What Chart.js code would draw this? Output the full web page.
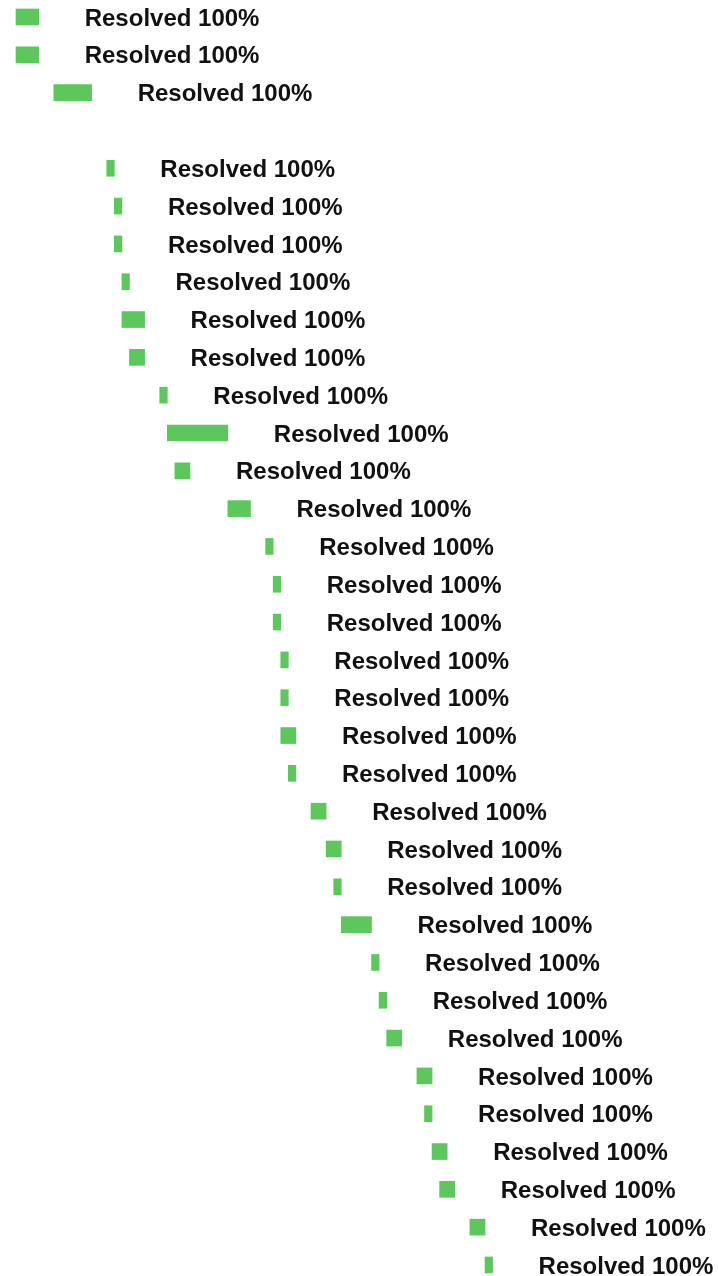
<!DOCTYPE html>
<html>
<head>
<meta charset="utf-8">
<script src="https://cdn.jsdelivr.net/npm/chart.js@4/dist/chart.umd.min.js"></script>
<style>
  html, body { margin: 0; padding: 0; background: #fff; }
  canvas { display: block; }
</style>
</head>
<body>
<canvas id="gantt" width="718" height="1276"></canvas>
<script>
// filas del gantt (dias desde el inicio)
const categories = [
  "T1", "T2", "T3", "T4", "T5", "T6", "T7", "T8", "T9", "T10",
  "T11", "T12", "T13", "T14", "T15", "T16", "T17", "T18", "T19", "T20",
  "T21", "T22", "T23", "T24", "T25", "T26", "T27", "T28", "T29", "T30",
  "T31", "T32", "T33", "T34"
];
const startDay = [
  0, 0, 5, null, 12, 13, 13, 14, 14, 15,
  19, 20, 21, 28, 33, 34, 34, 35, 35, 35,
  36, 39, 41, 42, 43, 47, 48, 49, 53, 54,
  55, 56, 60, 62
];
const endDay = [
  3, 3, 10, null, 13, 14, 14, 15, 17, 17,
  20, 28, 23, 31, 34, 35, 35, 36, 36, 37,
  37, 41, 43, 43, 47, 48, 49, 51, 55, 55,
  57, 58, 62, 63
];
const statusLabels = categories.map((c, i) => startDay[i] == null ? "" : "Resolved 100%");

const rangos = categories.map((c, i) =>
  startDay[i] == null ? null : [startDay[i], endDay[i]]
);

// texto a la derecha de cada barra
const etiquetas = {
  id: "etiquetas",
  afterDatasetsDraw(chart) {
    const ctx = chart.ctx;
    const meta = chart.getDatasetMeta(0);
    ctx.save();
    ctx.font = 'bold 24px "Liberation Sans", Arial, sans-serif';
    ctx.fillStyle = "#111";
    ctx.textAlign = "left";
    ctx.textBaseline = "middle";
    meta.data.forEach((bar, i) => {
      if (!statusLabels[i] || rangos[i] == null) return;
      ctx.fillText(statusLabels[i], bar.x + 46, bar.y + 2);
    });
    ctx.restore();
  }
};

new Chart(document.getElementById("gantt").getContext("2d"), {
  type: "bar",
  data: {
    labels: categories,
    datasets: [{
      data: rangos,
      backgroundColor: "#5cc85c",
      borderWidth: 0,
      barThickness: 16,
      clip: false
    }]
  },
  options: {
    indexAxis: "y",
    responsive: false,
    animation: false,
    layout: { padding: { top: 17, bottom: 11, left: 16, right: 0 } },
    plugins: {
      legend: { display: false },
      tooltip: { enabled: false }
    },
    scales: {
      x: { type: "linear", min: 0, max: 92.8, display: false },
      y: { display: false, offset: false }
    }
  },
  plugins: [etiquetas]
});
</script>
</body>
</html>
